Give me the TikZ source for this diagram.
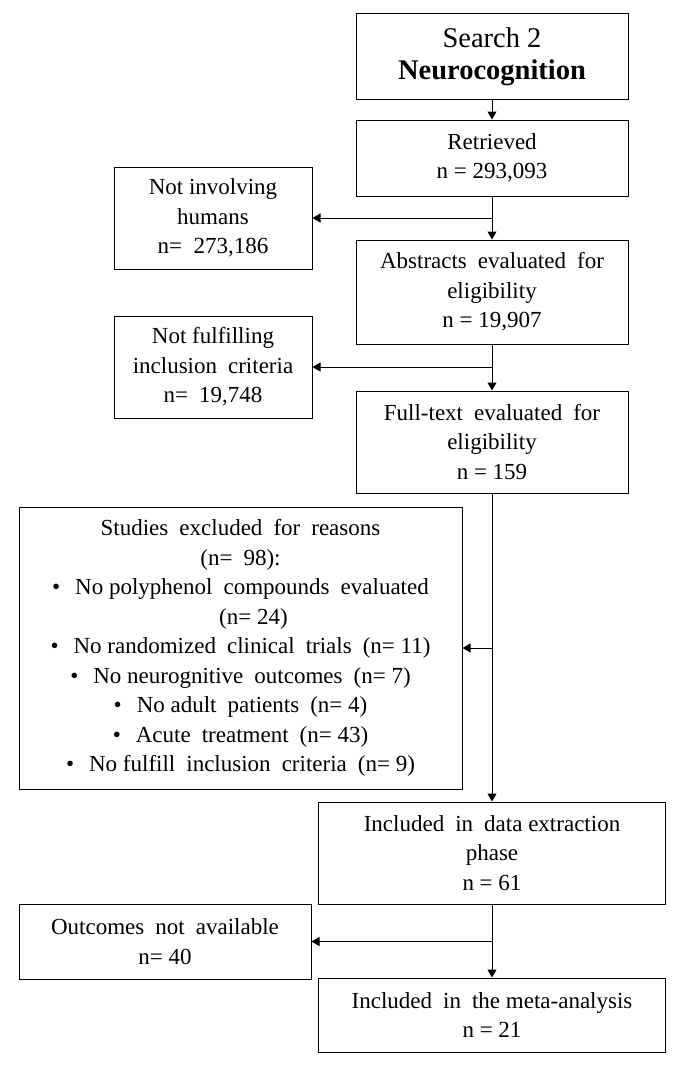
\documentclass[tikz,border=0pt]{standalone}
\usepackage{fontspec}
\setmainfont{Liberation Serif}
\usetikzlibrary{arrows.meta}
\newcommand\bodyfont{\fontsize{23}{29.5}\selectfont}
\newcommand\widefont{\fontsize{23}{29.5}\selectfont\spaceskip=0.48em plus 0pt\relax}
\newcommand\ns{\hspace{0.25em}}
\begin{document}
\begin{tikzpicture}[x=1pt,y=-1pt,
  box/.style={draw, line width=1pt, inner sep=0pt, align=center, font=\bodyfont},
  wide/.style={box, font=\widefont},
  titlebox/.style={box, font=\fontsize{28.5}{32}\selectfont},
  arr/.style={line width=1pt, -{Triangle[length=8pt,width=9pt]}}]
\useasboundingbox (0,0) rectangle (684,1065);
\node[titlebox, minimum width=272pt, minimum height=85pt] (search) at (492,56.5)
  {Search 2\\\textbf{Neurocognition}};
\node[box, minimum width=272pt, minimum height=76pt] (ret) at (492,158)
  {Retrieved\\n = 293,093};
\node[box, minimum width=198pt, minimum height=102pt] (noth) at (213,218)
  {Not involving\\humans\\n=\ \ 273,186};
\node[wide, minimum width=272pt, minimum height=104pt] (abs) at (492,292)
  {Abstracts evaluated for\\eligibility\\n\ns=\ns19,907};
\node[wide, minimum width=198pt, minimum height=102pt] (nofi) at (213,367)
  {Not\ns fulfilling\\inclusion criteria\\n= 19,748};
\node[wide, minimum width=272pt, minimum height=102pt] (full) at (492,442)
  {Full-text evaluated for\\eligibility\\n\ns=\ns159};
\node[wide, minimum width=443pt, minimum height=282pt] (stud) at (240.5,648)
  {Studies excluded for reasons\\
   (n= 98):\\
   \textbullet\hspace{15pt}No\ns polyphenol compounds evaluated\\
   \hspace*{26pt}(n=\ns24)\\
   \textbullet\hspace{15pt}No\ns randomized clinical trials (n=\ns11)\\
   \textbullet\hspace{15pt}No\ns neurognitive outcomes (n=\ns7)\\
   \textbullet\hspace{15pt}No\ns adult patients (n=\ns4)\\
   \textbullet\hspace{15pt}Acute treatment (n=\ns43)\\
   \textbullet\hspace{15pt}No\ns fulfill inclusion criteria (n=\ns9)};
\node[wide, minimum width=347pt, minimum height=102pt] (incl) at (492,853)
  {Included in data\ns extraction\\phase\\n\ns=\ns61};
\node[wide, minimum width=292pt, minimum height=75pt] (outc) at (165,941.5)
  {Outcomes not available\\n=\ns40};
\node[wide, minimum width=347pt, minimum height=74pt] (meta) at (492,1015)
  {Included in the\ns meta-analysis\\n\ns=\ns21};
\coordinate (j1) at (ret.south |- noth.east);
\coordinate (j2) at (abs.south |- nofi.east);
\coordinate (j3) at (full.south |- stud.east);
\coordinate (j4) at (incl.south |- outc.east);
\draw[arr] (search.south) -- (ret.north);
\draw[arr] (ret.south) -- (abs.north);
\draw[arr] (j1) -- (noth.east);
\draw[arr] (abs.south) -- (full.north);
\draw[arr] (j2) -- (nofi.east);
\draw[arr] (full.south) -- (incl.north);
\draw[arr] (j3) -- (stud.east);
\draw[arr] (incl.south) -- (meta.north);
\draw[arr] (j4) -- (outc.east);
\end{tikzpicture}
\end{document}
